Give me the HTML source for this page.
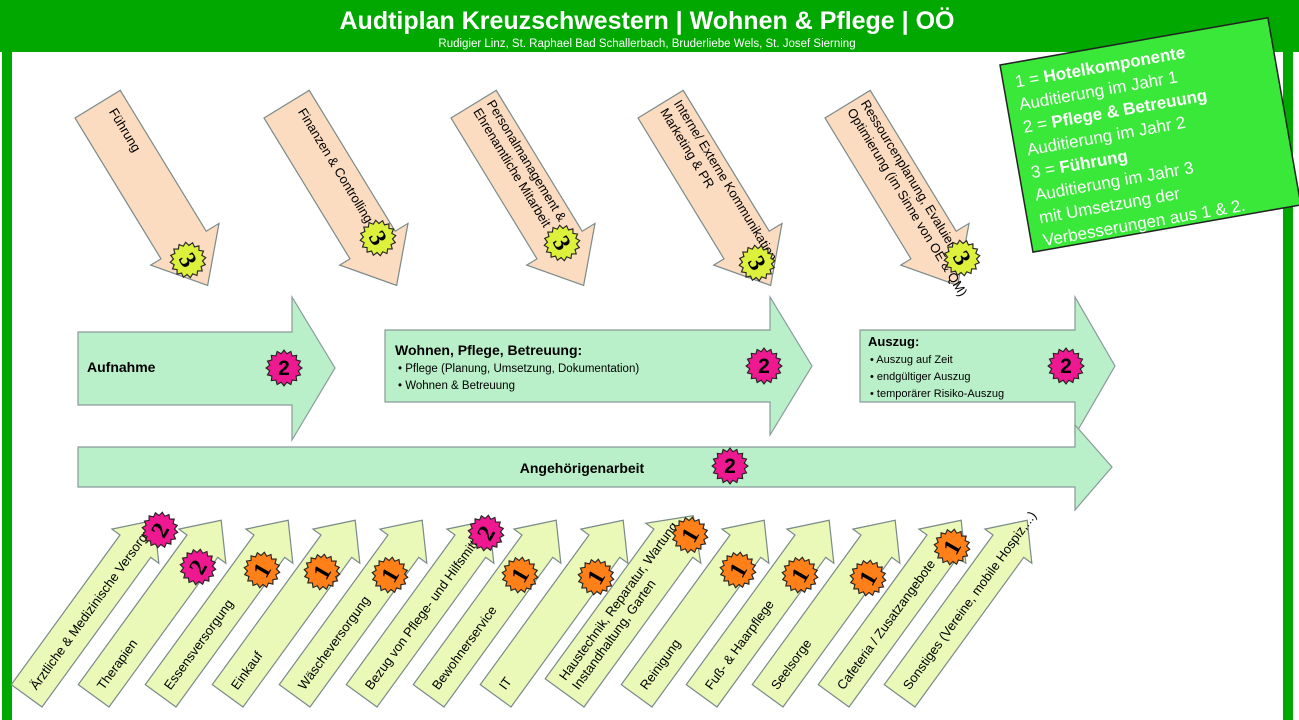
<!DOCTYPE html>
<html><head><meta charset="utf-8"><style>
html,body{margin:0;padding:0;background:#fff;}
svg{display:block;font-family:"Liberation Sans",sans-serif;}
</style></head><body>
<svg width="1299" height="720" viewBox="0 0 1299 720" xmlns="http://www.w3.org/2000/svg">
<defs>
<polygon id="star" points="16,0 12.75,2.54 14.78,6.12 10.81,7.22 11.31,11.31 7.22,10.81 6.12,14.78 2.54,12.75 0,16 -2.54,12.75 -6.12,14.78 -7.22,10.81 -11.31,11.31 -10.81,7.22 -14.78,6.12 -12.75,2.54 -16,0 -12.75,-2.54 -14.78,-6.12 -10.81,-7.22 -11.31,-11.31 -7.22,-10.81 -6.12,-14.78 -2.54,-12.75 0,-16 2.54,-12.75 6.12,-14.78 7.22,-10.81 11.31,-11.31 10.81,-7.22 14.78,-6.12 12.75,-2.54" stroke="#222" stroke-width="1" transform="scale(1.12)"/>
<polygon id="tarr" points="0,0 0,-53 165,-53 165,-68 212,-26 165,12 165,0" fill="#fcdcc0" stroke="#7a8a8a" stroke-width="1.2"/>
<polygon id="barr" points="0,0 185,0 185,10 217,-19 185,-48 185,-38 0,-38" fill="#eaf8b8" stroke="#7a8a8a" stroke-width="1.2"/>
<polygon id="barr2" points="0,0 185,0 185,10 219,-24 185,-58 185,-48 0,-48" fill="#eaf8b8" stroke="#7a8a8a" stroke-width="1.2"/>
</defs>
<!-- frame -->
<rect x="0" y="0" width="1299" height="52" fill="#00a800"/>
<rect x="2" y="0" width="10" height="720" fill="#00a800"/>
<rect x="1283" y="0" width="10" height="720" fill="#00a800"/>
<text x="647" y="29" text-anchor="middle" fill="#fff" font-size="25" font-weight="bold">Audtiplan Kreuzschwestern | Wohnen &amp; Pflege | OÖ</text>
<text x="647" y="47" text-anchor="middle" fill="#fff" font-size="11.5">Rudigier Linz, St. Raphael Bad Schallerbach, Bruderliebe Wels, St. Josef Sierning</text>

<!-- top arrows -->
<g font-size="13">
<g transform="translate(75,118) rotate(58.6)"><use href="#tarr"/><text x="12" y="-32">Führung</text></g>
<g transform="translate(264,118) rotate(58.6)"><use href="#tarr"/><text x="12" y="-32">Finanzen &amp; Controlling</text></g>
<g transform="translate(451,118) rotate(58.6)"><use href="#tarr"/><text x="6" y="-38">Personalmanagement &amp;</text><text x="6" y="-22">Ehrenamtliche Mitarbeit</text></g>
<g transform="translate(638,118) rotate(58.6)"><use href="#tarr"/><text x="6" y="-38">Interne/ Externe Kommunikation</text><text x="6" y="-22">Marketing &amp; PR</text></g>
<g transform="translate(825,118) rotate(58.6)"><use href="#tarr"/><text x="6" y="-38">Ressourcenplanung, Evaluierung</text><text x="6" y="-22">Optimierung (im Sinne von OE &amp; QM)</text></g>
</g>
<g font-family="Liberation Serif,serif" font-weight="bold" font-size="24" text-anchor="middle">
<g transform="translate(188,260) rotate(60)"><use href="#star" fill="#dcf03c"/><text y="8">3</text></g>
<g transform="translate(378,238) rotate(60)"><use href="#star" fill="#dcf03c"/><text y="8">3</text></g>
<g transform="translate(562,243) rotate(60)"><use href="#star" fill="#dcf03c"/><text y="8">3</text></g>
<g transform="translate(757,263) rotate(60)"><use href="#star" fill="#dcf03c"/><text y="8">3</text></g>
<g transform="translate(962,258) rotate(60)"><use href="#star" fill="#dcf03c"/><text y="8">3</text></g>
</g>

<!-- legend -->
<g transform="translate(1000,65) rotate(-10)">
<rect x="0" y="0" width="272" height="190" fill="#3ae83a" stroke="#222" stroke-width="1.5"/>
<g fill="#fff" font-size="17">
<text x="12" y="25">1 = <tspan font-weight="bold">Hotelkomponente</tspan></text>
<text x="12" y="48">Auditierung im Jahr 1</text>
<text x="12" y="71">2 = <tspan font-weight="bold">Pflege &amp; Betreuung</tspan></text>
<text x="12" y="94">Auditierung im Jahr 2</text>
<text x="12" y="117">3 = <tspan font-weight="bold">Führung</tspan></text>
<text x="12" y="140">Auditierung im Jahr 3</text>
<text x="12" y="163">mit Umsetzung der</text>
<text x="12" y="186">Verbesserungen aus 1 &amp; 2.</text>
</g></g>

<!-- middle arrows -->
<g fill="#b9f0c9" stroke="#8a9a9a" stroke-width="1.2">
<polygon points="78,332 292,332 292,297 335,368 292,440 292,405 78,405"/>
<polygon points="385,330 770,330 770,297 812,366 770,435 770,402 385,402"/>
<polygon points="860,330 1075,330 1075,297 1115,366 1075,435 1075,402 860,402"/>
<polygon points="78,447 1075,447 1075,425 1112,467 1075,510 1075,487 78,487"/>
</g>
<text x="87" y="372" font-size="14" font-weight="bold">Aufnahme</text>
<text x="395" y="355" font-size="14" font-weight="bold">Wohnen, Pflege, Betreuung:</text>
<text x="398" y="372" font-size="11.5">•  Pflege (Planung, Umsetzung, Dokumentation)</text>
<text x="398" y="389" font-size="11.5">•  Wohnen &amp; Betreuung</text>
<text x="868" y="346" font-size="13" font-weight="bold">Auszug:</text>
<text x="870" y="363" font-size="11">•  Auszug auf Zeit</text>
<text x="870" y="380" font-size="11">•  endgültiger Auszug</text>
<text x="870" y="397" font-size="11">•  temporärer Risiko-Auszug</text>
<text x="582" y="473" font-size="14" font-weight="bold" text-anchor="middle">Angehörigenarbeit</text>
<g font-weight="bold" font-size="21" text-anchor="middle">
<g transform="translate(284,368)"><use href="#star" fill="#ee1890"/><text y="7">2</text></g>
<g transform="translate(764,366)"><use href="#star" fill="#ee1890"/><text y="7">2</text></g>
<g transform="translate(1066,366)"><use href="#star" fill="#ee1890"/><text y="7">2</text></g>
<g transform="translate(730,466)"><use href="#star" fill="#ee1890"/><text y="7">2</text></g>
</g>

<!-- bottom arrows -->
<g font-size="13">
<g transform="translate(42,707) rotate(-54)"><use href="#barr"/><text x="10" y="-14">Ärztliche &amp; Medizinische Versorgung</text></g>
<g transform="translate(109,707) rotate(-54)"><use href="#barr"/><text x="10" y="-14">Therapien</text></g>
<g transform="translate(176,707) rotate(-54)"><use href="#barr"/><text x="10" y="-14">Essensversorgung</text></g>
<g transform="translate(243,707) rotate(-54)"><use href="#barr"/><text x="10" y="-14">Einkauf</text></g>
<g transform="translate(310,707) rotate(-54)"><use href="#barr"/><text x="10" y="-14">Wäscheversorgung</text></g>
<g transform="translate(377,707) rotate(-54)"><use href="#barr"/><text x="10" y="-14">Bezug von Pflege- und Hilfsmitteln</text></g>
<g transform="translate(444,707) rotate(-54)"><use href="#barr"/><text x="10" y="-14">Bewohnerservice</text></g>
<g transform="translate(511,707) rotate(-54)"><use href="#barr"/><text x="10" y="-14">IT</text></g>
<g transform="translate(584,707) rotate(-54)"><use href="#barr2"/><text x="10" y="-30">Haustechnik, Reparatur, Wartung</text><text x="10" y="-14">Instandhaltung, Garten</text></g>
<g transform="translate(652,707) rotate(-54)"><use href="#barr"/><text x="10" y="-14">Reinigung</text></g>
<g transform="translate(717,707) rotate(-54)"><use href="#barr"/><text x="10" y="-14">Fuß- &amp; Haarpflege</text></g>
<g transform="translate(783,707) rotate(-54)"><use href="#barr"/><text x="10" y="-14">Seelsorge</text></g>
<g transform="translate(849,707) rotate(-54)"><use href="#barr"/><text x="10" y="-14">Cafeteria / Zusatzangebote</text></g>
<g transform="translate(915,707) rotate(-54)"><use href="#barr"/><text x="10" y="-14">Sonstiges (Vereine, mobile Hospiz,...)</text></g>
</g>
<g font-family="Liberation Serif,serif" font-weight="bold" font-size="24" text-anchor="middle">
<g transform="translate(160,530) rotate(-60)"><use href="#star" fill="#ee1890"/><text y="8">2</text></g>
<g transform="translate(198,567) rotate(-60)"><use href="#star" fill="#ee1890"/><text y="8">2</text></g>
<g transform="translate(262,570) rotate(-60)"><use href="#star" fill="#ff8018"/><text y="8">1</text></g>
<g transform="translate(322,572) rotate(-60)"><use href="#star" fill="#ff8018"/><text y="8">1</text></g>
<g transform="translate(390,575) rotate(-60)"><use href="#star" fill="#ff8018"/><text y="8">1</text></g>
<g transform="translate(486,533) rotate(-60)"><use href="#star" fill="#ee1890"/><text y="8">2</text></g>
<g transform="translate(520,575) rotate(-60)"><use href="#star" fill="#ff8018"/><text y="8">1</text></g>
<g transform="translate(596,577) rotate(-60)"><use href="#star" fill="#ff8018"/><text y="8">1</text></g>
<g transform="translate(690,535) rotate(-60)"><use href="#star" fill="#ff8018"/><text y="8">1</text></g>
<g transform="translate(738,570) rotate(-60)"><use href="#star" fill="#ff8018"/><text y="8">1</text></g>
<g transform="translate(800,575) rotate(-60)"><use href="#star" fill="#ff8018"/><text y="8">1</text></g>
<g transform="translate(868,578) rotate(-60)"><use href="#star" fill="#ff8018"/><text y="8">1</text></g>
<g transform="translate(952,547) rotate(-60)"><use href="#star" fill="#ff8018"/><text y="8">1</text></g>
</g>
</svg>
</body></html>
